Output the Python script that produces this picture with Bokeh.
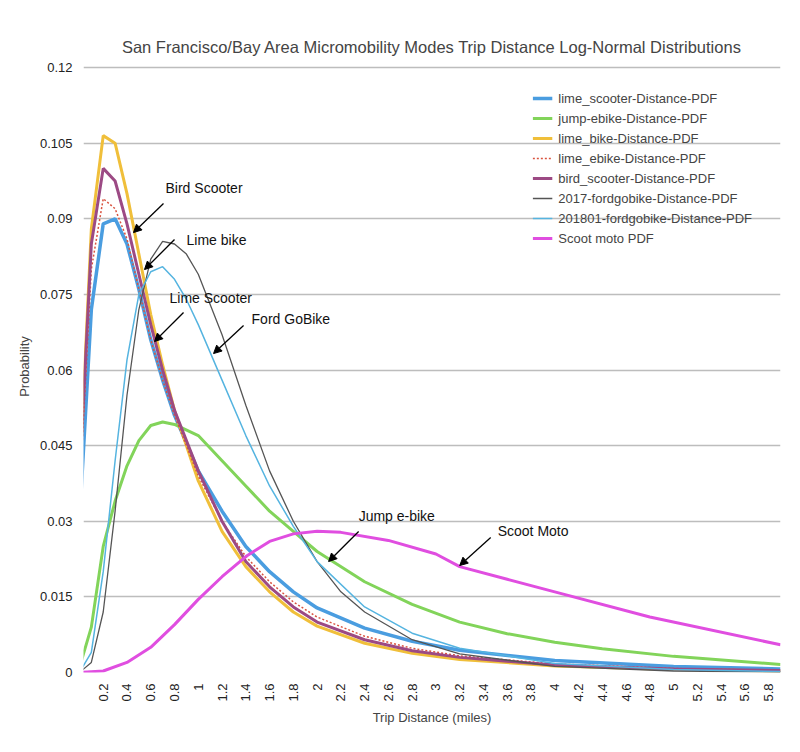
import math
from bokeh.plotting import figure
from bokeh.models import FixedTicker, Legend, LegendItem, Arrow, NormalHead, Label, Range1d
from bokeh.embed import file_html
from bokeh.resources import INLINE

title = "San Francisco/Bay Area Micromobility Modes Trip Distance Log-Normal Distributions"

lime_scooter_x = [0.0, 0.1, 0.2, 0.3, 0.4, 0.5, 0.6, 0.7, 0.8, 1.0, 1.2, 1.4, 1.6, 1.8, 2.0, 2.4, 2.8, 3.2, 4.0, 5.0, 5.9]
lime_scooter_y = [0.030, 0.072, 0.089, 0.090, 0.085, 0.076, 0.066, 0.058, 0.051, 0.040, 0.032, 0.025, 0.020, 0.016, 0.0128, 0.0088, 0.0062, 0.0044, 0.0024, 0.0012, 0.0007]

jump_x = [0.0, 0.1, 0.2, 0.3, 0.4, 0.5, 0.6, 0.7, 0.8, 1.0, 1.2, 1.4, 1.6, 1.8, 2.0, 2.4, 2.8, 3.2, 3.6, 4.0, 4.4, 5.0, 5.9]
jump_y = [0.001, 0.009, 0.025, 0.034, 0.041, 0.046, 0.049, 0.0497, 0.0492, 0.047, 0.042, 0.037, 0.032, 0.028, 0.024, 0.018, 0.0135, 0.010, 0.0077, 0.006, 0.0047, 0.0032, 0.0016]

lime_bike_x = [0.0, 0.1, 0.2, 0.3, 0.4, 0.5, 0.6, 0.7, 0.8, 1.0, 1.2, 1.4, 1.6, 1.8, 2.0, 2.4, 2.8, 3.2, 4.0, 5.0, 5.9]
lime_bike_y = [0.038, 0.088, 0.1065, 0.105, 0.095, 0.083, 0.071, 0.061, 0.052, 0.038, 0.028, 0.021, 0.016, 0.012, 0.0092, 0.0058, 0.0038, 0.0026, 0.0013, 0.0006, 0.0003]

lime_ebike_x = [0.0, 0.1, 0.2, 0.3, 0.4, 0.5, 0.6, 0.7, 0.8, 1.0, 1.2, 1.4, 1.6, 1.8, 2.0, 2.4, 2.8, 3.2, 4.0, 5.0, 5.9]
lime_ebike_y = [0.035, 0.080, 0.094, 0.092, 0.086, 0.076, 0.066, 0.058, 0.051, 0.039, 0.030, 0.023, 0.018, 0.014, 0.011, 0.0072, 0.0048, 0.0033, 0.0017, 0.0008, 0.0004]

bird_x = [0.0, 0.1, 0.2, 0.3, 0.4, 0.5, 0.6, 0.7, 0.8, 1.0, 1.2, 1.4, 1.6, 1.8, 2.0, 2.4, 2.8, 3.2, 4.0, 5.0, 5.9]
bird_y = [0.038, 0.085, 0.100, 0.0975, 0.089, 0.079, 0.069, 0.060, 0.052, 0.040, 0.030, 0.022, 0.017, 0.013, 0.010, 0.0065, 0.0043, 0.003, 0.0015, 0.0007, 0.0004]

ford2017_x = [0.0, 0.1, 0.2, 0.3, 0.4, 0.5, 0.6, 0.7, 0.8, 0.9, 1.0, 1.2, 1.4, 1.6, 1.8, 2.0, 2.2, 2.4, 2.8, 3.2, 4.0, 5.0, 5.9]
ford2017_y = [0.0, 0.002, 0.012, 0.032, 0.055, 0.072, 0.082, 0.0855, 0.085, 0.083, 0.079, 0.067, 0.053, 0.040, 0.030, 0.022, 0.016, 0.012, 0.0065, 0.0037, 0.0012, 0.0003, 0.0001]

ford201801_x = [0.0, 0.1, 0.2, 0.3, 0.4, 0.5, 0.6, 0.7, 0.8, 0.9, 1.0, 1.2, 1.4, 1.6, 1.8, 2.0, 2.4, 2.8, 3.2, 4.0, 5.0, 5.9]
ford201801_y = [0.0, 0.004, 0.020, 0.042, 0.062, 0.075, 0.0795, 0.0805, 0.078, 0.074, 0.069, 0.058, 0.047, 0.037, 0.029, 0.022, 0.013, 0.0078, 0.0048, 0.0018, 0.0006, 0.0002]

scoot_x = [0.0, 0.2, 0.4, 0.6, 0.8, 1.0, 1.2, 1.4, 1.6, 1.8, 2.0, 2.2, 2.6, 3.0, 3.2, 3.6, 4.0, 4.8, 5.9]
scoot_y = [0.0, 0.0003, 0.002, 0.005, 0.0095, 0.0145, 0.019, 0.023, 0.026, 0.0275, 0.028, 0.0278, 0.0262, 0.0235, 0.021, 0.0185, 0.016, 0.011, 0.0055]

series = [
    ("lime_scooter-Distance-PDF", lime_scooter_x, lime_scooter_y, "#4a9de0", 3.5, "solid"),
    ("jump-ebike-Distance-PDF", jump_x, jump_y, "#82d45a", 3, "solid"),
    ("lime_bike-Distance-PDF", lime_bike_x, lime_bike_y, "#f0bf3a", 3, "solid"),
    ("lime_ebike-Distance-PDF", lime_ebike_x, lime_ebike_y, "#d9533f", 1.5, "2 2"),
    ("bird_scooter-Distance-PDF", bird_x, bird_y, "#9c4a84", 3, "solid"),
    ("2017-fordgobike-Distance-PDF", ford2017_x, ford2017_y, "#555555", 1.3, "solid"),
    ("201801-fordgobike-Distance-PDF", ford201801_x, ford201801_y, "#55b4e0", 1.5, "solid"),
    ("Scoot moto PDF", scoot_x, scoot_y, "#e04ee0", 3, "solid"),
]

x_ticks = [round(0.2 * i, 1) for i in range(1, 30)]
y_ticks = [0, 0.015, 0.03, 0.045, 0.06, 0.075, 0.09, 0.105, 0.12]

p = figure(width=784, height=736, output_backend="svg", toolbar_location=None,
           x_range=Range1d(0.034, 5.9), y_range=Range1d(0, 0.1214),
           min_border_left=83, min_border_right=4, min_border_top=60, min_border_bottom=64)
p.title.text = title
p.title.align = "center"
p.title.text_font = "Liberation Sans"
p.title.text_font_size = "16.5px"
p.title.text_font_style = "normal"
p.title.offset = 0
p.outline_line_color = None
p.background_fill_color = "white"

p.xaxis.ticker = FixedTicker(ticks=x_ticks)
p.xaxis.major_label_overrides = {t: ("%g" % t) for t in x_ticks}
p.xaxis.major_label_orientation = math.pi / 2
p.yaxis.ticker = FixedTicker(ticks=y_ticks)
p.yaxis.major_label_overrides = {t: ("%g" % t) for t in y_ticks}
for ax in (p.xaxis[0], p.yaxis[0]):
    ax.axis_line_color = None
    ax.major_tick_line_color = None
    ax.minor_tick_line_color = None
    ax.major_label_text_font = "Liberation Sans"
    ax.major_label_text_font_size = "13px"
    ax.major_label_text_color = "#222222"
    ax.axis_label_text_font = "Liberation Sans"
    ax.axis_label_text_font_size = "13px"
    ax.axis_label_text_font_style = "normal"
p.xaxis.axis_label = "Trip Distance (miles)"
p.yaxis.axis_label = "Probability"
p.xgrid.grid_line_color = None
p.ygrid.ticker = FixedTicker(ticks=y_ticks)
p.ygrid.grid_line_color = "#bdbdbd"
p.ygrid.grid_line_width = 1.5

items = []
for name, xs, ys, col, w, dash in series:
    r = p.line(xs, ys, line_color=col, line_width=w, line_dash=dash)
    items.append(LegendItem(label=name, renderers=[r]))

leg = Legend(items=items, location="top_right", border_line_color=None,
             background_fill_alpha=0, label_text_font="Liberation Sans",
             label_text_font_size="13px", spacing=-3, glyph_width=20,
             margin=28, padding=0, label_standoff=6)
p.add_layout(leg)

def px2x(px):
    return (px - 79) / 118.75
def px2y(py):
    return (672 - py) / 5042.0

annotations = [
    ("Bird Scooter", 165, 187, 163, 203, 133, 232),
    ("Lime bike", 186, 239, 174, 239, 144, 269),
    ("Lime Scooter", 169, 297, 183, 312, 154, 341),
    ("Ford GoBike", 251, 318, 243, 325, 213, 353),
    ("Jump e-bike", 358, 515, 358, 531, 328, 561),
    ("Scoot Moto", 497, 530, 490, 537, 459, 565),
]
for txt, tx, ty, x0, y0, x1, y1 in annotations:
    p.add_layout(Label(x=px2x(tx), y=px2y(ty), text=txt, text_font="Liberation Sans",
                       text_font_size="14px", text_baseline="middle", text_color="#111111"))
    p.add_layout(Arrow(x_start=px2x(x0), y_start=px2y(y0), x_end=px2x(x1), y_end=px2y(y1),
                       line_width=1.3, line_color="black",
                       end=NormalHead(size=8, fill_color="black", line_color="black")))

open("out.html", "w").write(file_html(p, INLINE))
